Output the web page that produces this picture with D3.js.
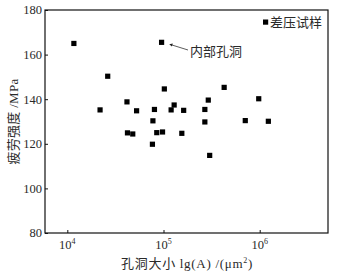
<!DOCTYPE html>
<html>
<head>
<meta charset="utf-8">
<script src="https://cdn.jsdelivr.net/npm/d3@7"></script>
<style>
  body { margin: 0; background: #fff; }
  text { font-family: "Liberation Serif", "Noto Sans CJK SC", serif; fill: #2a2a2a; }
</style>
</head>
<body>
<svg width="341" height="274"></svg>
<script>
// hole size (um^2) and fatigue strength (MPa)
const area = [11700, 21900, 26300, 41700, 42200, 47900, 52500, 77600, 76700, 80500,
  85100, 95500, 97700, 102000, 120000, 129000, 162000, 155000, 269000, 269000,
  292000, 302000, 427000, 708000, 977000, 1230000];
const strength = [165, 135.2, 150.3, 138.8, 124.9, 124.4, 134.8, 130.3, 119.8, 135.4,
  125, 165.5, 125.3, 144.6, 135.2, 137.4, 135, 124.7, 135.4, 129.8,
  139.6, 114.8, 145.3, 130.4, 140.2, 130.1];
const yTicks = [80, 100, 120, 140, 160, 180];
const xTicks = [4, 5, 6];

const width = 341, height = 274;
const margin = { top: 10, right: 13, bottom: 41, left: 45 };

const svg = d3.select("svg");

const x = d3.scaleLinear()
    .domain([3.768, 6.71])
    .range([margin.left, width - margin.right]);

const y = d3.scaleLinear()
    .domain([80, 180])
    .range([height - margin.bottom, margin.top]);

// frame
svg.append("rect")
    .attr("x", margin.left).attr("y", margin.top)
    .attr("width", width - margin.left - margin.right)
    .attr("height", height - margin.top - margin.bottom)
    .attr("fill", "none").attr("stroke", "#111").attr("stroke-width", 1.2);

// y axis, ticks pointing in
const gy = svg.append("g")
    .attr("transform", `translate(${margin.left},0)`)
    .call(d3.axisRight(y).tickValues(yTicks).tickSize(3).tickFormat(""))
    .call(g => g.select(".domain").remove());
gy.selectAll("line").attr("stroke", "#111");
svg.append("g").selectAll("text")
    .data(yTicks)
    .join("text")
    .attr("x", margin.left - 3)
    .attr("y", d => y(d))
    .attr("dy", "0.35em")
    .attr("text-anchor", "end")
    .attr("font-size", 12.5)
    .text(d => d);

// x axis, ticks pointing in
const gx = svg.append("g")
    .attr("transform", `translate(0,${height - margin.bottom})`)
    .call(d3.axisTop(x).tickValues(xTicks).tickSize(3).tickFormat(""))
    .call(g => g.select(".domain").remove());
gx.selectAll("line").attr("stroke", "#111");
const xl = svg.append("g").selectAll("text")
    .data(xTicks)
    .join("text")
    .attr("x", d => x(d))
    .attr("y", height - margin.bottom + 16)
    .attr("text-anchor", "middle")
    .attr("font-size", 12.5);
xl.append("tspan").text("10");
xl.append("tspan").attr("dy", -5).attr("font-size", 8).text(d => d);

// points
svg.append("g")
    .attr("fill", "#000")
    .selectAll("rect")
    .data(area.map((a, i) => [Math.log10(a), strength[i]]))
    .join("rect")
    .attr("x", d => x(d[0]) - 2.6)
    .attr("y", d => y(d[1]) - 2.6)
    .attr("width", 5.2)
    .attr("height", 5.2);

// legend
svg.append("rect")
    .attr("x", 263).attr("y", 19.5).attr("width", 5.2).attr("height", 5.2).attr("fill", "#000");
svg.append("text")
    .attr("x", 270).attr("y", 22.5).attr("dy", "0.35em")
    .attr("font-size", 13)
    .text("差压试样");

// annotation
svg.append("defs").append("marker")
    .attr("id", "ah").attr("viewBox", "0 0 10 10")
    .attr("refX", 1).attr("refY", 5)
    .attr("markerWidth", 6).attr("markerHeight", 4)
    .attr("orient", "auto-start-reverse")
    .append("path").attr("d", "M0,0L10,5L0,10z").attr("fill", "#222");
svg.append("line")
    .attr("x1", 188).attr("y1", 50).attr("x2", 172).attr("y2", 45)
    .attr("stroke", "#333").attr("stroke-width", 0.8)
    .attr("marker-end", "url(#ah)");
svg.append("text")
    .attr("x", 190).attr("y", 51).attr("dy", "0.35em")
    .attr("font-size", 13)
    .text("内部孔洞");

// axis titles
svg.append("text")
    .attr("transform", `translate(13,${(margin.top + height - margin.bottom) / 2}) rotate(-90)`)
    .attr("text-anchor", "middle")
    .attr("dy", "0.35em")
    .attr("font-size", 13)
    .attr("letter-spacing", 0.3)
    .text("疲劳强度 /MPa");
const xt = svg.append("text")
    .attr("x", 187).attr("y", 263)
    .attr("text-anchor", "middle")
    .attr("dy", "0.35em")
    .attr("font-size", 13)
    .attr("letter-spacing", 0.7);
xt.append("tspan").text("孔洞大小 lg(A) /(μm");
xt.append("tspan").attr("dy", -5).attr("font-size", 8).text("2");
xt.append("tspan").attr("dy", 5).text(")");
</script>
</body>
</html>
